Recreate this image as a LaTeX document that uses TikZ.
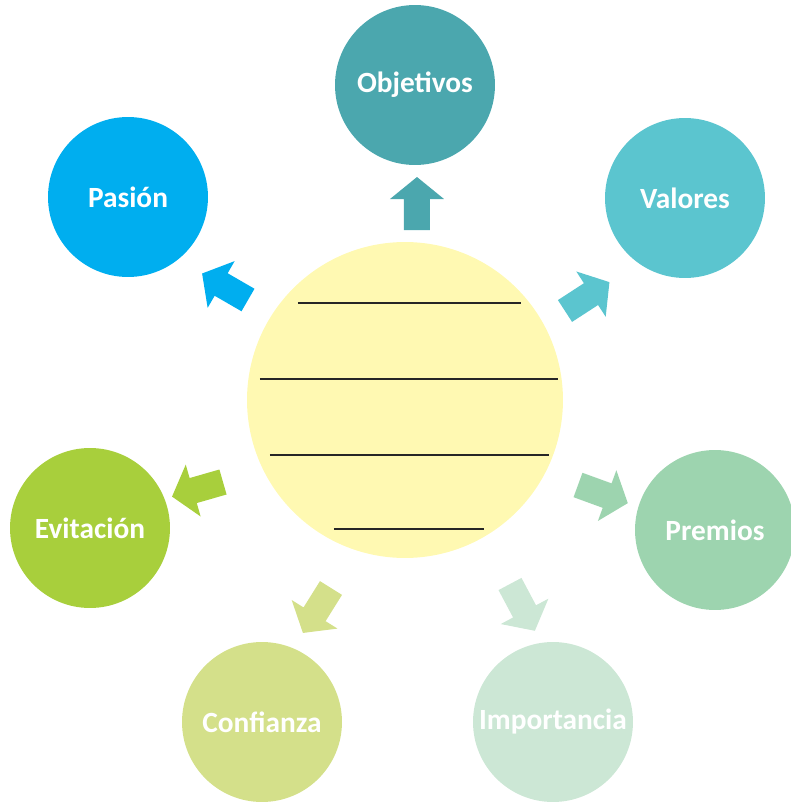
\documentclass[tikz,border=0pt]{standalone}
\usepackage{fontspec}
\setmainfont{Carlito}
\usepackage{xcolor}
\usepackage{tikz}

\definecolor{cCentro}{HTML}{FFF9B2}
\definecolor{cObj}{HTML}{4BA7AE}
\definecolor{cVal}{HTML}{5BC5CF}
\definecolor{cPre}{HTML}{9DD4AF}
\definecolor{cImp}{HTML}{CCE7D5}
\definecolor{cCon}{HTML}{D4E08A}
\definecolor{cEvi}{HTML}{A8CF3C}
\definecolor{cPas}{HTML}{00AEEF}

\tikzset{
    burbuja/.style={circle, minimum size=3.2cm, inner sep=0pt, text=white,
        font=\fontsize{16.7}{19}\selectfont\bfseries},
    flecha/.style={fill=#1, draw=none}
}

\begin{document}
\begin{tikzpicture}[x=0.02cm, y=0.02cm]
    \useasboundingbox (-405,-402) rectangle (386,400);
    % Central circle
    \node[circle, fill=cCentro, minimum size=6.32cm, inner sep=0pt] (centro) at (0,0) {};
    % Blank lines inside the central circle
    \foreach \i/\a/\b/\y in {1/-107/116/97, 2/-145/153/21, 3/-135/144/-55, 4/-71/79/-129} {
        \coordinate (linea\i a) at (\a,\y);
        \coordinate (linea\i b) at (\b,\y);
        \draw[line width=1.1pt, black!85] (linea\i a) -- (linea\i b);
    }
    % Outer circles with their labels
    \foreach \name/\x/\y/\col/\txt in {objetivos/10/315/cObj/Objetivos,
            valores/280/202/cVal/Valores, premios/310/-130/cPre/Premios,
            importancia/148/-322/cImp/Importancia, confianza/-143/-322/cCon/Confianza,
            evitacion/-315/-128/cEvi/Evitación, pasion/-277/203/cPas/Pasión} {
        \node[burbuja, fill=\col] (\name) at (\x,\y) {\txt};
    }
    % Block arrows pointing outwards
    \foreach \x/\y/\ang/\col in {12/170/90/cObj, 160/89/33/cVal, 173/-85/-20/cPre,
            105/-184/-62/cImp, -74/-188/238/cCon, -182/-82/196/cEvi, -157/100/150/cPas} {
        \fill[flecha=\col, shift={(\x,\y)}, rotate=\ang]
            (0,-13) -- (31,-13) -- (31,-27) -- (53,0) -- (31,27) -- (31,13) -- (0,13) -- cycle;
    }
\end{tikzpicture}
\end{document}
